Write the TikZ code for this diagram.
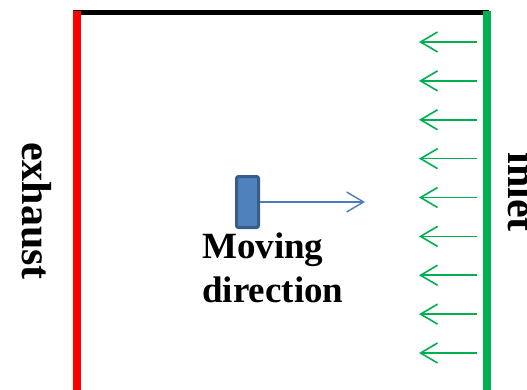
\documentclass[tikz,border=0pt]{standalone}
\usepackage{fontspec}
\setmainfont{Liberation Serif}
\usetikzlibrary{arrows.meta}
\definecolor{inletgreen}{HTML}{00B050}
\definecolor{blockfill}{HTML}{4F81BD}
\definecolor{blockedge}{HTML}{385D8A}
\definecolor{movecol}{HTML}{4A7EBB}
\begin{document}
\begin{tikzpicture}[x=1pt,y=-1pt,
  wall/.style={line width=8pt},
  flow/.style={draw=inletgreen, line width=1.6pt, -{Straight Barb[length=17pt,width=20pt]}},
  movearrow/.style={draw=movecol, line width=1.4pt, -{Straight Barb[length=17pt,width=20pt]}},
  sidelabel/.style={rotate=-90, anchor=base, inner sep=0pt, font=\fontsize{42}{50}\selectfont\bfseries},
  movelabel/.style={anchor=base west, inner sep=0pt, font=\fontsize{37}{44}\selectfont\bfseries},
  block/.style={draw=blockedge, fill=blockfill, line width=3pt, rounded corners=2pt, minimum width=22pt, minimum height=51pt, inner sep=0pt}]
\useasboundingbox (0,0) rectangle (527,389);
% walls
\coordinate (topl) at (73,12.5);
\coordinate (topr) at (489,12.5);
\draw[black, line width=4.5pt] (topl) -- (topr);
\coordinate (exT) at (76.5,11);
\coordinate (exB) at (76.5,392);
\draw[wall, red] (exT) -- (exB);
\coordinate (inT) at (486.5,10.5);
\coordinate (inB) at (486.5,392);
\draw[wall, inletgreen] (inT) -- (inB);
% inflow arrows
\foreach \i in {0,...,8} {
  \coordinate (fs\i) at (477, {42+38.875*\i});
  \coordinate (fe\i) at (419, {42+38.875*\i});
  \draw[flow] (fs\i) -- (fe\i);
}
% moving block
\node[block] (blk) at (247.5,202) {};
\coordinate (mvtip) at (365,202);
\draw[movearrow] (blk.east) -- (mvtip);
\node[movelabel] (mv1) at (202,258) {Moving};
\node[movelabel] (mv2) at (202,302) {direction};
% side labels
\node[sidelabel] (exh) at (22,211) {exhaust};
\node[sidelabel] (inl) at (508,192) {inlet};
\end{tikzpicture}
\end{document}
